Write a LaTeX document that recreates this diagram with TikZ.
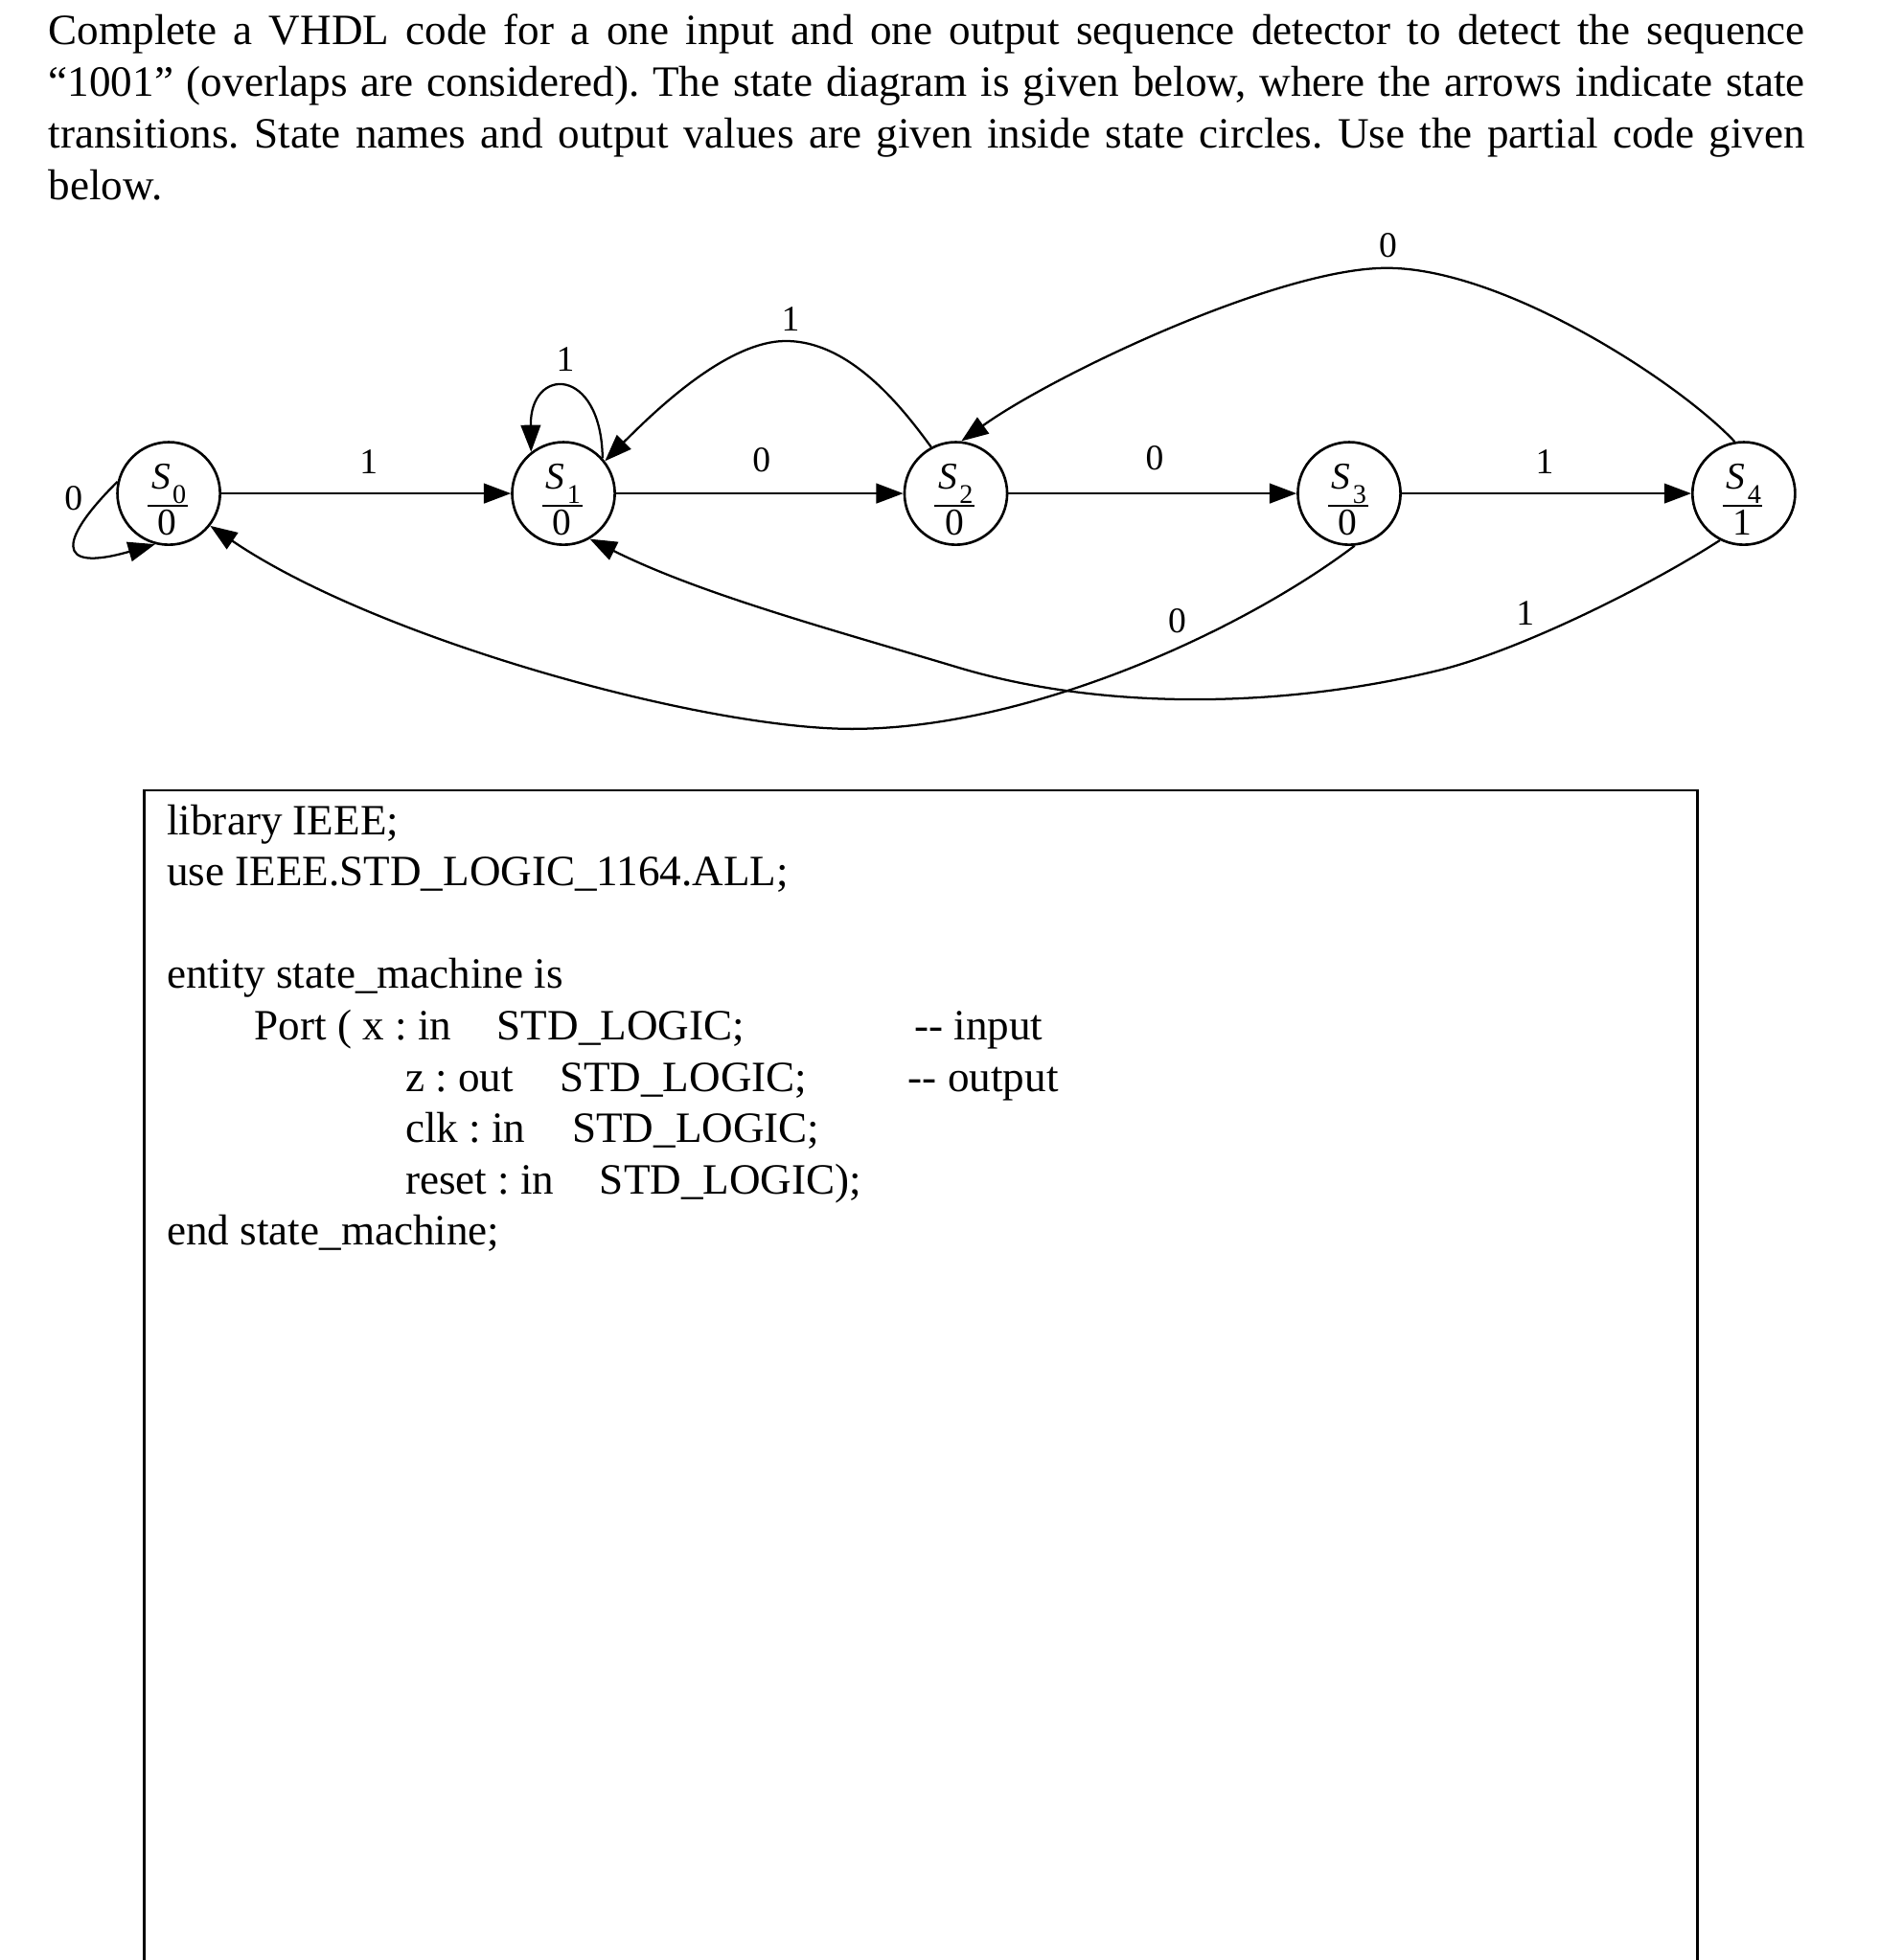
\documentclass[tikz,border=0pt]{standalone}
\usepackage{fontspec}
\setmainfont{Liberation Serif}
\usetikzlibrary{arrows.meta}
\frenchspacing
\newcommand\mystate[5]{%
  \node[stnode] (#1) at (#2,#3) {};
  \node[stname,anchor=base west] (#1n) at (#2-14.7,#3-3.4) {\textit{S}\kern0.6pt\raisebox{-4pt}{\fontsize{7.5}{7.5}\selectfont #4}};
  \draw[fbar] (#2-17,#3+10) -- (#2+15,#3+10);
  \node[stname,anchor=base] (#1o) at (#2-1,#3+33.5) {#5};
}
\begin{document}
\frenchspacing
\begin{tikzpicture}[x=0.3478pt,y=-0.3478pt,
  line width=0.6pt,
  stnode/.style={circle,draw,line width=0.7pt,minimum size=28.5pt,inner sep=0pt},
  stname/.style={inner sep=0pt,font=\fontsize{10.5}{12}\selectfont},
  lab/.style={inner sep=0pt,font=\fontsize{10}{12}\selectfont},
  txt/.style={inner sep=0pt,anchor=base west,font=\fontsize{12}{14.4}\selectfont},
  arr/.style={-{Triangle[length=7.5pt,width=5.5pt]},line width=0.6pt},
  fbar/.style={line width=0.5pt},
  codebox/.style={line width=0.7pt}]
\useasboundingbox (0,0) rectangle (1500,1565);

% intro text
\node[txt] (t1) at (38,35.5) {\makebox[487.6pt][s]{Complete a VHDL code for a one input and one output sequence detector to detect the sequence}};
\node[txt] (t2) at (38,76.8) {\makebox[487.6pt][s]{“1001” (overlaps are considered). The state diagram is given below, where the arrows indicate state}};
\node[txt] (t3) at (38,118.1) {\makebox[487.6pt][s]{transitions. State names and output values are given inside state circles. Use the partial code given}};
\node[txt] (t4) at (38,159.4) {below.};

% states
\mystate{s0}{134.7}{394}{0}{0}
\mystate{s1}{449.8}{394}{1}{0}
\mystate{s2}{763}{394}{2}{0}
\mystate{s3}{1077}{394}{3}{0}
\mystate{s4}{1392}{394}{4}{1}

% transitions
\draw[arr] (s0.167) .. controls (48,430) and (42,458) .. (s0.255);
\draw[arr] (s0) -- (s1);
\draw[arr] (s1) -- (s2);
\draw[arr] (s2) -- (s3);
\draw[arr] (s3) -- (s4);
\draw[arr] (s1.42) .. controls (480,292) and (423,292) .. (s1.128);
\draw[arr] (s2.118) .. controls (722,328) and (680,272.3) .. (627.3,272.3)
                    .. controls (580,272.3) and (522,329) .. (s1.38);
\draw[arr] (s4.100) .. controls (1340,305) and (1200,214) .. (1107,214)
                    .. controls (1020,214) and (840,300) .. (s2.84);
\draw[arr] (s3.-84) .. controls (990,505) and (820,582) .. (680,582)
                    .. controls (560,582) and (300,510) .. (s0.-38);
\draw[arr] (s4.243) .. controls (1313,470) and (1210,520.5) .. (1147.4,535.5)
                    .. controls (1017,567) and (875,566) .. (765,533)
                    .. controls (665,503) and (559.3,474.5) .. (s1.-60);

% labels
\node[lab] (l00) at (58.7,398) {0};
\node[lab] (l01) at (294.4,368.5) {1};
\node[lab] (l11) at (451.3,286.9) {1};
\node[lab] (l12) at (608,367) {0};
\node[lab] (l21) at (631,254.5) {1};
\node[lab] (l23) at (921.8,366) {0};
\node[lab] (l34) at (1233,368.5) {1};
\node[lab] (l42) at (1107.9,196.3) {0};
\node[lab] (l30) at (939.6,496) {0};
\node[lab] (l41) at (1217.5,489.6) {1};

% code box
\draw[codebox] (115,1565) -- (115,631) -- (1355,631) -- (1355,1565);
\node[txt] (c1) at (132.5,666.5) {library IEEE;};
\node[txt] (c2) at (132.5,707.45) {use IEEE.STD\_LOGIC\_1164.ALL;};
\node[txt] (c3) at (132.5,789.35) {entity state\_machine is};
\node[txt] (c4a) at (202.3,830.3) {Port ( x : in};
\node[txt] (c4b) at (396,830.3) {STD\_LOGIC;};
\node[txt] (c4c) at (729,830.3) {{-}{-} input};
\node[txt] (c5a) at (322.7,871.25) {z : out};
\node[txt] (c5b) at (446,871.25) {STD\_LOGIC;};
\node[txt] (c5c) at (724.2,871.25) {{-}{-} output};
\node[txt] (c6a) at (322.7,912.2) {clk : in};
\node[txt] (c6b) at (456,912.2) {STD\_LOGIC;};
\node[txt] (c7a) at (322.7,953.15) {reset : in};
\node[txt] (c7b) at (477.9,953.15) {STD\_LOGIC);};
\node[txt] (c8) at (132.5,994.1) {end state\_machine;};
\end{tikzpicture}
\end{document}
